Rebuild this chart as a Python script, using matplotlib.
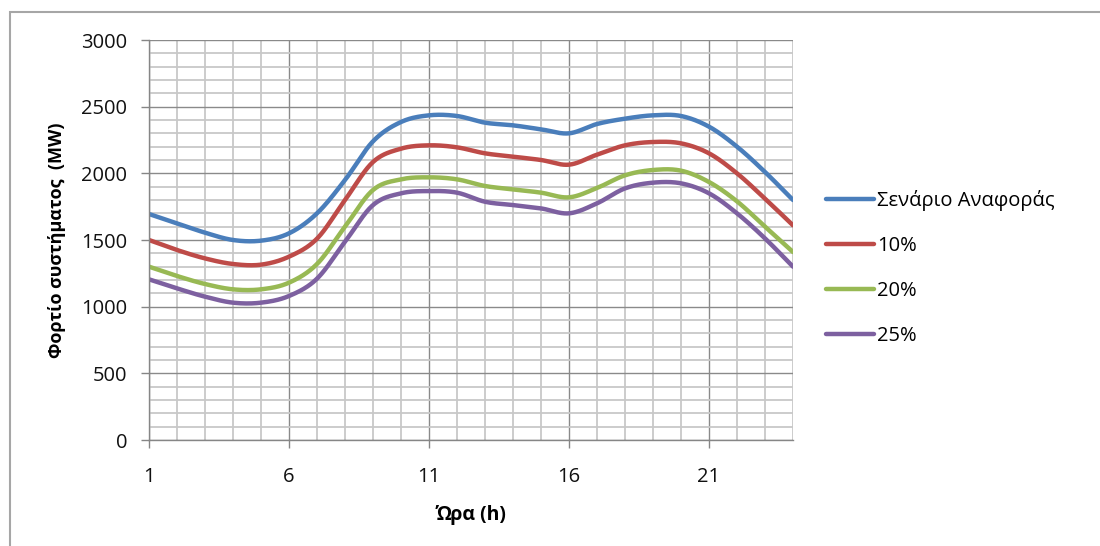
import numpy as np
import matplotlib
matplotlib.use("Agg")
import matplotlib.pyplot as plt
from matplotlib.patches import Rectangle
from matplotlib.ticker import MultipleLocator, FixedLocator

plt.rcParams['font.family'] = ['Open Sans', 'DejaVu Sans']

hours = list(range(1, 25))
series_names = ["Σενάριο Αναφοράς", "10%", "20%", "25%"]
reference = [1695, 1625, 1555, 1500, 1495, 1550, 1700, 1950, 2240, 2385, 2435, 2430,
             2380, 2360, 2330, 2300, 2370, 2410, 2435, 2430, 2350, 2200, 2010, 1800]
pct10 = [1500, 1425, 1362, 1320, 1315, 1375, 1510, 1800, 2085, 2185, 2210, 2195,
         2150, 2125, 2100, 2065, 2140, 2210, 2235, 2225, 2150, 2000, 1810, 1610]
pct20 = [1300, 1230, 1170, 1130, 1130, 1180, 1320, 1600, 1875, 1955, 1970, 1955,
         1905, 1880, 1855, 1820, 1890, 1985, 2025, 2020, 1935, 1790, 1600, 1410]
pct25 = [1205, 1137, 1075, 1030, 1030, 1080, 1210, 1487, 1762, 1850, 1867, 1855,
         1787, 1762, 1737, 1700, 1775, 1887, 1930, 1925, 1850, 1700, 1512, 1300]
colors = ["#4a7ebb", "#be4b48", "#98b954", "#7d60a0"]
x_major = [1, 6, 11, 16, 21]
y_major = [0, 500, 1000, 1500, 2000, 2500, 3000]


def smooth(xs, ys, n=30):
    """Excel-like smoothed line (Catmull-Rom Bezier) through the data points."""
    xs = np.asarray(xs, float)
    ys = np.asarray(ys, float)
    px = np.concatenate([[xs[0]], xs, [xs[-1]]])
    py = np.concatenate([[ys[0]], ys, [ys[-1]]])
    ox, oy = [], []
    t = np.linspace(0, 1, n, endpoint=False)
    for i in range(1, len(px) - 2):
        p0 = np.array([px[i], py[i]])
        p3 = np.array([px[i + 1], py[i + 1]])
        c1 = p0 + (np.array([px[i + 1], py[i + 1]]) - np.array([px[i - 1], py[i - 1]])) / 6
        c2 = p3 - (np.array([px[i + 2], py[i + 2]]) - np.array([px[i], py[i]])) / 6
        b = ((1 - t) ** 3)[:, None] * p0 + (3 * (1 - t) ** 2 * t)[:, None] * c1 \
            + (3 * (1 - t) * t ** 2)[:, None] * c2 + (t ** 3)[:, None] * p3
        ox.extend(b[:, 0]); oy.extend(b[:, 1])
    ox.append(xs[-1]); oy.append(ys[-1])
    return np.array(ox), np.array(oy)


fig = plt.figure(figsize=(11, 5.46), dpi=100)
fig.patches.append(Rectangle((10 / 1100, -0.02), 1.1, 1 - 12 / 546 + 0.02,
                             transform=fig.transFigure, fill=False,
                             edgecolor="#a6a6a6", linewidth=1.5))

ax = fig.add_axes([149 / 1100, 1 - 440 / 546, 644 / 1100, 400 / 546])
ax.set_xlim(1, 24)
ax.set_ylim(0, 3000)

ax.xaxis.set_major_locator(FixedLocator(x_major))
ax.xaxis.set_minor_locator(MultipleLocator(1))
ax.yaxis.set_major_locator(FixedLocator(y_major))
ax.yaxis.set_minor_locator(MultipleLocator(100))

ax.grid(which="minor", color="#c8c8c8", linewidth=1.3)
ax.grid(which="major", color="#8a8a8a", linewidth=1.0)
ax.set_axisbelow(True)

for s in ["top", "right"]:
    ax.spines[s].set_visible(False)
for s in ["left", "bottom"]:
    ax.spines[s].set_color("#868686")
    ax.spines[s].set_linewidth(1.0)

ax.tick_params(which="major", direction="out", length=5.8, width=1.0, color="#868686",
               labelsize=14.5, labelcolor="#111111")
ax.tick_params(axis="y", which="major", pad=10)
ax.tick_params(axis="x", which="major", pad=13.5)
ax.tick_params(which="minor", length=0)

data = [reference, pct10, pct20, pct25]
for name, vals, c in zip(series_names, data, colors):
    sx, sy = smooth(hours, vals)
    ax.plot(sx, sy, color=c, linewidth=3.2, label=name, solid_capstyle="round")

ax.set_xlabel("Ώρα (h)", fontsize=14, fontweight="bold", labelpad=13)
ax.set_ylabel("Φορτίο συστήματος  (MW)", fontsize=13, fontweight="bold", labelpad=11)

leg = fig.legend(loc="upper left", bbox_to_anchor=(826 / 1100, 1 - 190 / 546),
                 frameon=False, fontsize=14.5, handlelength=2.4, handletextpad=0.15,
                 labelspacing=1.24, borderpad=0, borderaxespad=0)

fig.savefig("out.png", dpi=100, facecolor="white")
